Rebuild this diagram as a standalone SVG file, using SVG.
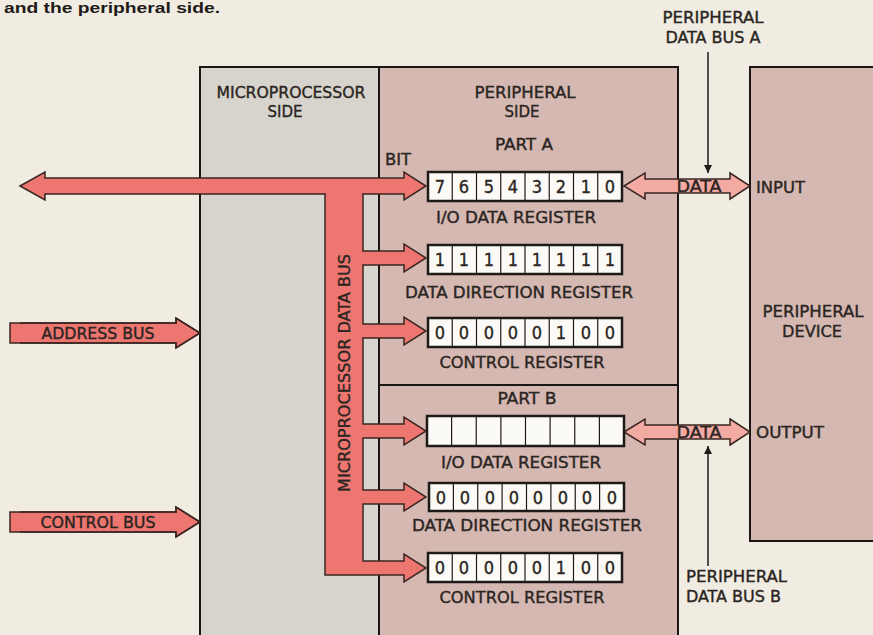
<svg xmlns="http://www.w3.org/2000/svg" width="873" height="635" viewBox="0 0 873 635">
<defs>
<style>
.t{font-family:"DejaVu Sans Condensed","Liberation Sans Narrow","Liberation Sans",sans-serif;font-size:16px;fill:#2b2522;stroke:#2b2522;stroke-width:0.35;text-anchor:middle}
.d{font-size:18px}
.l{text-anchor:start}
.reg{fill:#fbfaf6;stroke:#1e1a18;stroke-width:2.5}
.cell{stroke:#1e1a18;stroke-width:1.2}
.bus{fill:#ee7670;stroke:#3a2622;stroke-width:1.5;stroke-linejoin:miter}
.dbus{fill:#f2aaa2;stroke:#3a2622;stroke-width:1.5}
.frame{stroke:#1a1614;stroke-width:2;fill:none}
</style>
<marker id="ah" viewBox="0 0 10 10" refX="10" refY="5" markerWidth="8" markerHeight="10" markerUnits="userSpaceOnUse" orient="auto">
<path d="M0,0 L10,5 L0,10 Z" fill="#1e1a18"/>
</marker>
</defs>
<rect x="0" y="0" width="873" height="635" fill="#f0ece2"/>
<text x="4" y="13" textLength="216" lengthAdjust="spacingAndGlyphs" style="font-family:'Liberation Sans',sans-serif;font-weight:bold;font-size:15px;fill:#1e1a18">and the peripheral side.</text>

<g id="microprocessor-side">
<rect x="200" y="67" width="179" height="570" fill="#d6d4cc"/>
<text class="t" x="291" y="98" textLength="149" lengthAdjust="spacingAndGlyphs">MICROPROCESSOR</text>
<text class="t" x="285" y="117" textLength="35" lengthAdjust="spacingAndGlyphs">SIDE</text>
</g>
<g id="peripheral-side">
<rect x="379" y="67" width="299" height="570" fill="#d5b8b1"/>
<line class="frame" x1="379" y1="385" x2="678" y2="385" stroke-width="1.3"/>
<text class="t" x="525" y="98" textLength="101" lengthAdjust="spacingAndGlyphs">PERIPHERAL</text>
<text class="t" x="522" y="117" textLength="35" lengthAdjust="spacingAndGlyphs">SIDE</text>
<text class="t" x="524" y="150" textLength="58" lengthAdjust="spacingAndGlyphs">PART A</text>
<text class="t" x="527" y="404" textLength="59" lengthAdjust="spacingAndGlyphs">PART B</text>
</g>
<g id="peripheral-device">
<rect x="750" y="67" width="125" height="474" fill="#d5b8b1"/>
<path class="frame" d="M874,67 L750,67 L750,541 L874,541" stroke-width="2.5"/>
<text class="t" x="813" y="317" textLength="101" lengthAdjust="spacingAndGlyphs">PERIPHERAL</text>
<text class="t" x="812" y="337" textLength="60" lengthAdjust="spacingAndGlyphs">DEVICE</text>
<text class="t l" x="756" y="193" textLength="49" lengthAdjust="spacingAndGlyphs">INPUT</text>
<text class="t l" x="756" y="438" textLength="68" lengthAdjust="spacingAndGlyphs">OUTPUT</text>
</g>
<g id="frame">
<path class="frame" d="M200,636 L200,67 L678,67 L678,636" stroke-width="2.5"/>
<line class="frame" x1="379" y1="67" x2="379" y2="636" stroke-width="1.6"/>
</g>

<g id="connectors">
<path class="bus" d="M20,186 L45,172 L45,178 L404,178 L404,172 L426,186 L404,200 L404,194 L363,194 L363,251 L404,251 L404,244 L426,258 L404,272 L404,265 L363,265 L363,324 L404,324 L404,317 L426,331 L404,345 L404,338 L363,338 L363,424 L404,424 L404,417 L426,431 L404,445 L404,438 L363,438 L363,490 L404,490 L404,483 L426,497 L404,511 L404,504 L363,504 L363,561 L404,561 L404,554 L426,568 L404,582 L404,575 L325,575 L325,194 L45,194 L45,200 Z"/>
<path class="bus" d="M10,323 L176,323 L176,318 L200,333 L176,348 L176,343 L10,343 Z" stroke="none"/>
<path d="M20,323 L176,323 L176,318 L200,333 L176,348 L176,343 L20,343" fill="none" stroke="#3a2622" stroke-width="1.5"/>
<path class="bus" d="M10,512 L176,512 L176,507 L200,522 L176,537 L176,532 L10,532 Z" stroke="none"/>
<path d="M20,512 L176,512 L176,507 L200,522 L176,537 L176,532 L20,532" fill="none" stroke="#3a2622" stroke-width="1.5"/>
<path class="dbus" d="M624,186 L645,173 L645,179 L730,179 L730,173 L750,186 L730,199 L730,193 L645,193 L645,199 Z"/>
<path class="dbus" d="M624,432 L645,419 L645,425 L730,425 L730,419 L750,432 L730,445 L730,439 L645,439 L645,445 Z"/>
<line x1="708" y1="52" x2="708" y2="173" stroke="#1e1a18" stroke-width="1.5" marker-end="url(#ah)"/>
<line x1="708" y1="566" x2="708" y2="446" stroke="#1e1a18" stroke-width="1.5" marker-end="url(#ah)"/>
<text class="t" x="345" y="373" transform="rotate(-90 345 373)" dy="5" textLength="238" lengthAdjust="spacingAndGlyphs">MICROPROCESSOR DATA BUS</text>
<text class="t" x="98" y="339" textLength="113" lengthAdjust="spacingAndGlyphs">ADDRESS BUS</text>
<text class="t" x="98" y="528" textLength="115" lengthAdjust="spacingAndGlyphs">CONTROL BUS</text>
<text class="t" x="699" y="192" textLength="45" lengthAdjust="spacingAndGlyphs">DATA</text>
<text class="t" x="699" y="438" textLength="45" lengthAdjust="spacingAndGlyphs">DATA</text>
<text class="t l" x="385" y="165" textLength="26" lengthAdjust="spacingAndGlyphs">BIT</text>
<text class="t" x="713" y="23" textLength="101" lengthAdjust="spacingAndGlyphs">PERIPHERAL</text>
<text class="t" x="713" y="43" textLength="95" lengthAdjust="spacingAndGlyphs">DATA BUS A</text>
<text class="t l" x="686" y="582" textLength="101" lengthAdjust="spacingAndGlyphs">PERIPHERAL</text>
<text class="t l" x="686" y="602" textLength="95" lengthAdjust="spacingAndGlyphs">DATA BUS B</text>
</g>

<g id="io-data-register-a">
<rect class="reg" x="428" y="172" width="194" height="29"/>
<path class="cell" d="M452.25,172V201M476.5,172V201M500.75,172V201M525,172V201M549.25,172V201M573.5,172V201M597.75,172V201"/>
<text class="t d" y="193"><tspan x="440">7</tspan><tspan x="464">6</tspan><tspan x="489">5</tspan><tspan x="513">4</tspan><tspan x="537">3</tspan><tspan x="561">2</tspan><tspan x="586">1</tspan><tspan x="610">0</tspan></text>
<text class="t" x="516" y="223" textLength="160" lengthAdjust="spacingAndGlyphs">I/O DATA REGISTER</text>
</g>
<g id="data-direction-register-a">
<rect class="reg" x="428" y="245" width="194" height="29"/>
<path class="cell" d="M452.25,245V274M476.5,245V274M500.75,245V274M525,245V274M549.25,245V274M573.5,245V274M597.75,245V274"/>
<text class="t d" y="266"><tspan x="440">1</tspan><tspan x="464">1</tspan><tspan x="489">1</tspan><tspan x="513">1</tspan><tspan x="537">1</tspan><tspan x="561">1</tspan><tspan x="586">1</tspan><tspan x="610">1</tspan></text>
<text class="t" x="519" y="298" textLength="228" lengthAdjust="spacingAndGlyphs">DATA DIRECTION REGISTER</text>
</g>
<g id="control-register-a">
<rect class="reg" x="428" y="318" width="194" height="29"/>
<path class="cell" d="M452.25,318V347M476.5,318V347M500.75,318V347M525,318V347M549.25,318V347M573.5,318V347M597.75,318V347"/>
<text class="t d" y="339"><tspan x="440">0</tspan><tspan x="464">0</tspan><tspan x="489">0</tspan><tspan x="513">0</tspan><tspan x="537">0</tspan><tspan x="561">1</tspan><tspan x="586">0</tspan><tspan x="610">0</tspan></text>
<text class="t" x="522" y="368" textLength="165" lengthAdjust="spacingAndGlyphs">CONTROL REGISTER</text>
</g>
<g id="io-data-register-b">
<rect class="reg" x="427" y="416" width="197" height="30"/>
<path class="cell" d="M451.6,416V446M476.25,416V446M500.9,416V446M525.5,416V446M550.1,416V446M574.75,416V446M599.4,416V446"/>
<text class="t" x="521" y="468" textLength="160" lengthAdjust="spacingAndGlyphs">I/O DATA REGISTER</text>
</g>
<g id="data-direction-register-b">
<rect class="reg" x="429" y="483" width="195" height="28"/>
<path class="cell" d="M453.4,483V511M477.75,483V511M502.1,483V511M526.5,483V511M550.9,483V511M575.25,483V511M599.6,483V511"/>
<text class="t d" y="504"><tspan x="441">0</tspan><tspan x="465">0</tspan><tspan x="490">0</tspan><tspan x="514">0</tspan><tspan x="538">0</tspan><tspan x="563">0</tspan><tspan x="587">0</tspan><tspan x="612">0</tspan></text>
<text class="t" x="527" y="531" textLength="230" lengthAdjust="spacingAndGlyphs">DATA DIRECTION REGISTER</text>
</g>
<g id="control-register-b">
<rect class="reg" x="428" y="553" width="194" height="29"/>
<path class="cell" d="M452.25,553V582M476.5,553V582M500.75,553V582M525,553V582M549.25,553V582M573.5,553V582M597.75,553V582"/>
<text class="t d" y="574"><tspan x="440">0</tspan><tspan x="464">0</tspan><tspan x="489">0</tspan><tspan x="513">0</tspan><tspan x="537">0</tspan><tspan x="561">1</tspan><tspan x="586">0</tspan><tspan x="610">0</tspan></text>
<text class="t" x="522" y="603" textLength="165" lengthAdjust="spacingAndGlyphs">CONTROL REGISTER</text>
</g>
</svg>
